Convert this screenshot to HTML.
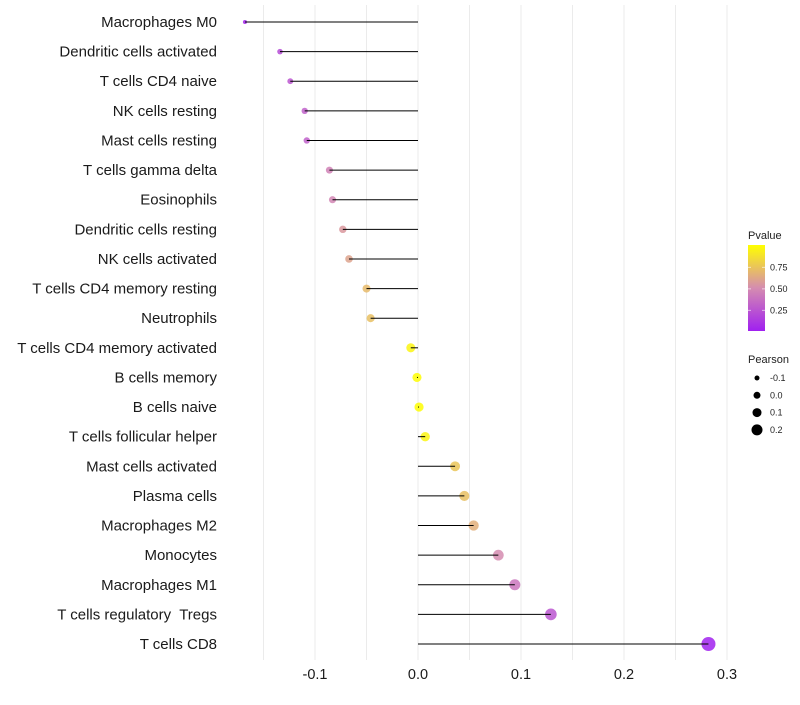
<!DOCTYPE html>
<html><head><meta charset="utf-8"><style>
body{margin:0;background:#fff;font-family:"Liberation Sans",sans-serif}
</style></head><body>
<svg id="c" width="800" height="700" xmlns="http://www.w3.org/2000/svg"></svg>
<script>
const categories=["Macrophages M0","Dendritic cells activated","T cells CD4 naive","NK cells resting","Mast cells resting","T cells gamma delta","Eosinophils","Dendritic cells resting","NK cells activated","T cells CD4 memory resting","Neutrophils","T cells CD4 memory activated","B cells memory","B cells naive","T cells follicular helper","Mast cells activated","Plasma cells","Macrophages M2","Monocytes","Macrophages M1","T cells regulatory  Tregs","T cells CD8"];
const pearson=[-0.168,-0.134,-0.124,-0.110,-0.108,-0.086,-0.083,-0.073,-0.067,-0.050,-0.046,-0.007,-0.001,0.001,0.007,0.036,0.045,0.054,0.078,0.094,0.129,0.282];
const pvalue=[0.03,0.2,0.25,0.3,0.3,0.45,0.47,0.55,0.6,0.7,0.72,0.95,0.99,0.99,0.95,0.75,0.72,0.65,0.5,0.4,0.25,0.01];
const xTicks=[-0.1,0.0,0.1,0.2,0.3];
const xMinor=[-0.15,-0.05,0.05,0.15,0.25];
const legendPearson=[-0.1,0.0,0.1,0.2];
const legendP=[0.25,0.5,0.75];

const svg=document.getElementById('c');
const NS="http://www.w3.org/2000/svg";
const x=v=>418+v*1030;
const y=i=>22+i*(622/21);
const r=v=>Math.sqrt(Math.max(21+100*v,1));
const lr=v=>3.5+v*10;
function col(p){
  const s=[[0,[160,32,240]],[0.5,[213,140,176]],[1,[255,255,0]]];
  let a=s[0],b=s[1];if(p>0.5){a=s[1];b=s[2];}
  const t=(p-a[0])/(b[0]-a[0]);
  const c=a[1].map((q,k)=>Math.round(q+(b[1][k]-q)*t));
  return `rgb(${c[0]},${c[1]},${c[2]})`;
}
function el(tag,attrs,parent){const e=document.createElementNS(NS,tag);for(const k in attrs)e.setAttribute(k,attrs[k]);(parent||svg).appendChild(e);return e;}

xMinor.forEach(v=>{const l=el('line',{x1:x(v),x2:x(v),y1:5,y2:660,stroke:'#ebebeb','stroke-width':1});

});
xTicks.forEach(v=>{const l=el('line',{x1:x(v),x2:x(v),y1:5,y2:660,stroke:'#ebebeb','stroke-width':1});


const t=el('text',{x:x(v),y:679,'text-anchor':'middle','font-size':14.5,fill:'#1a1a1a'});t.textContent=v===0?'0.0':String(v);

});

categories.forEach((c,i)=>{
  const t=el('text',{x:217,y:y(i)+5,'text-anchor':'end','font-size':15,fill:'#1a1a1a','xml:space':'preserve'});t.style.whiteSpace='pre';t.textContent=c;
  
  
  const d=el('circle',{cx:x(pearson[i]),cy:y(i),r:r(pearson[i]),fill:col(pvalue[i]),'fill-opacity':0.85});
  
  
  const l=el('line',{x1:x(0),x2:x(pearson[i]),y1:y(i),y2:y(i),stroke:'#000','stroke-width':1});
  
  
});

const g=el('g',{});


const tt=el('text',{x:748,y:239,'font-size':11,fill:'#222'},g);tt.textContent='Pvalue';
const defs=el('defs',{},g);
const lg=el('linearGradient',{id:'pg',x1:0,y1:1,x2:0,y2:0},defs);
[[0,'rgb(160,32,240)'],[0.5,'rgb(213,140,176)'],[1,'rgb(255,255,0)']].forEach(s=>el('stop',{offset:s[0],'stop-color':s[1]},lg));
const pb=v=>331-(v-0.01)*86;
el('rect',{x:748,y:pb(1.01),width:17,height:86,fill:'url(#pg)'},g);
legendP.forEach(v=>{el('line',{x1:748,x2:751,y1:pb(v),y2:pb(v),stroke:'#fff','stroke-opacity':0.6},g);el('line',{x1:762,x2:765,y1:pb(v),y2:pb(v),stroke:'#fff','stroke-opacity':0.6},g);
const t=el('text',{x:770,y:pb(v)+3,'font-size':9,fill:'#222'},g);t.textContent=v.toFixed(2);});

const g2=el('g',{});


const t2=el('text',{x:748,y:363,'font-size':11,fill:'#222'},g2);t2.textContent='Pearson';
legendPearson.forEach((v,i)=>{const cy=378+i*17.3;el('circle',{cx:757,cy:cy,r:lr(v),fill:'#000'},g2);
const t=el('text',{x:770,y:cy+3,'font-size':9,fill:'#222'},g2);t.textContent=v===0?'0.0':String(v);});
</script>
</body></html>
